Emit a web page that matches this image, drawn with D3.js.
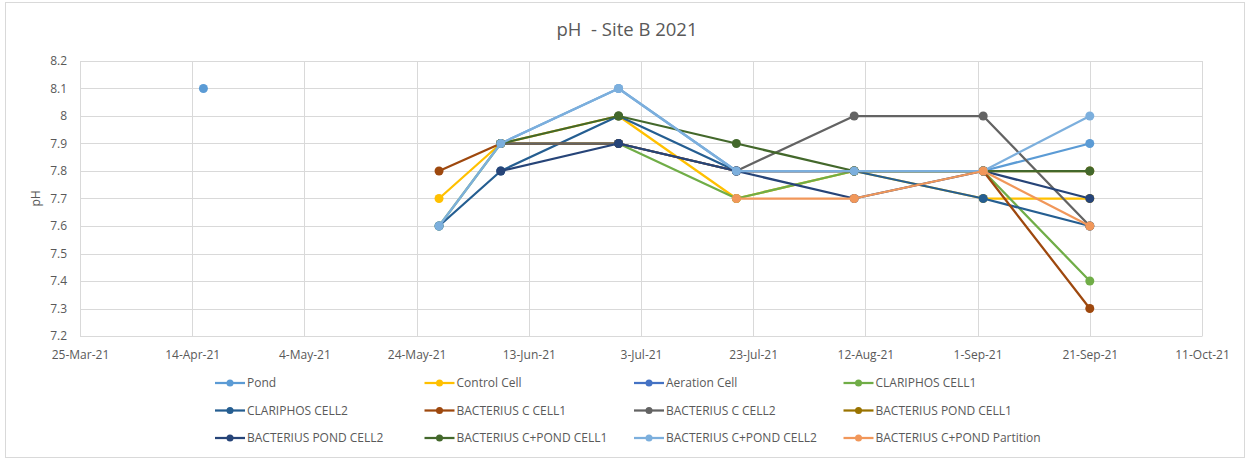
<!DOCTYPE html>
<html>
<head>
<meta charset="utf-8">
<script src="https://cdn.jsdelivr.net/npm/d3@7"></script>
<style>
  body { margin: 0; background: #fff; }
  text { font-family: "Open Sans", "Liberation Sans", sans-serif; fill: #595959; }
</style>
</head>
<body>
<div id="chart"></div>
<script>
// sample dates (Pond has one extra early reading)
const sampleDates = ["2021-04-16", "2021-05-28", "2021-06-08", "2021-06-29", "2021-07-20", "2021-08-10", "2021-09-02", "2021-09-21"];

const seriesNames = ["Pond", "Control Cell", "Aeration Cell", "CLARIPHOS CELL1", "CLARIPHOS CELL2", "BACTERIUS C CELL1",
  "BACTERIUS C CELL2", "BACTERIUS POND CELL1", "BACTERIUS POND CELL2", "BACTERIUS C+POND CELL1", "BACTERIUS C+POND CELL2", "BACTERIUS C+POND Partition"];

const seriesColors = ["#5B9BD5", "#FFC000", "#4472C4", "#70AD47", "#255E91", "#9E480E",
  "#636363", "#997300", "#264478", "#43682B", "#7CAFDD", "#F1975A"];

// pH readings, null = no sample
const pond          = [8.1, null, 7.9, 8.1, 7.8, 7.8, 7.8, 7.9];
const control       = [null, 7.7, 7.9, 8.0, 7.7, 7.8, 7.7, 7.7];
const aeration      = [null, null, null, null, null, null, null, null];
const clariphos1    = [null, 7.6, 7.9, 7.9, 7.7, 7.8, 7.8, 7.4];
const clariphos2    = [null, 7.6, 7.8, 8.0, 7.8, 7.8, 7.7, 7.6];
const bactC1        = [null, 7.8, 7.9, 7.9, 7.8, 7.8, 7.8, 7.3];
const bactC2        = [null, null, 7.9, 7.9, 7.8, 8.0, 8.0, 7.6];
const bactPond1     = [null, null, null, null, null, null, 7.8, 7.8];
const bactPond2     = [null, null, 7.8, 7.9, 7.8, 7.7, 7.8, 7.7];
const bactCPond1    = [null, null, 7.9, 8.0, 7.9, 7.8, 7.8, 7.8];
const bactCPond2    = [null, 7.6, 7.9, 8.1, 7.8, 7.8, 7.8, 8.0];
const bactPartition = [null, null, null, null, 7.7, 7.7, 7.8, 7.6];

const seriesValues = [pond, control, aeration, clariphos1, clariphos2, bactC1,
  bactC2, bactPond1, bactPond2, bactCPond1, bactCPond2, bactPartition];

const xTicks = ["2021-03-25", "2021-04-14", "2021-05-04", "2021-05-24", "2021-06-13", "2021-07-03",
  "2021-07-23", "2021-08-12", "2021-09-01", "2021-09-21", "2021-10-11"];
const yTicks = [7.2, 7.3, 7.4, 7.5, 7.6, 7.7, 7.8, 7.9, 8.0, 8.1, 8.2];

const parseDate = d3.timeParse("%Y-%m-%d");
const fmtDate = d3.timeFormat("%-d-%b-%y");

const W = 1250, H = 460;
const plotL = 80, plotR = 1202, plotT = 61, plotB = 336;

const svg = d3.select("#chart").append("svg")
  .attr("width", W)
  .attr("height", H);

svg.append("rect")
  .attr("x", 5.5).attr("y", 2.5)
  .attr("width", 1239).attr("height", 455)
  .attr("fill", "#fff")
  .attr("stroke", "#D9D9D9");

svg.append("text")
  .attr("x", 627).attr("y", 36)
  .attr("text-anchor", "middle")
  .style("font-size", "18.5px")
  .style("white-space", "pre")
  .text("pH  - Site B 2021");

const x = d3.scaleTime()
  .domain([parseDate(xTicks[0]), parseDate(xTicks[xTicks.length - 1])])
  .range([plotL, plotR]);

const y = d3.scaleLinear()
  .domain([7.2, 8.2])
  .range([plotB, plotT]);

// gridlines
svg.append("g")
  .selectAll("line")
  .data(yTicks)
  .enter()
  .append("line")
  .attr("x1", plotL).attr("x2", plotR)
  .attr("y1", d => Math.round(y(d)) + 0.5).attr("y2", d => Math.round(y(d)) + 0.5)
  .attr("stroke", "#D9D9D9")
  .attr("stroke-width", 1);

svg.append("g")
  .selectAll("line")
  .data(xTicks)
  .enter()
  .append("line")
  .attr("x1", d => Math.round(x(parseDate(d))) + 0.5).attr("x2", d => Math.round(x(parseDate(d))) + 0.5)
  .attr("y1", plotT).attr("y2", plotB)
  .attr("stroke", "#D9D9D9")
  .attr("stroke-width", 1);

// axes (labels only, Excel style)
const yAxis = svg.append("g")
  .attr("transform", "translate(" + plotL + ",0)")
  .call(d3.axisLeft(y).tickValues(yTicks).tickSize(0).tickPadding(13).tickFormat(d => String(+d.toFixed(1))));
yAxis.select(".domain").remove();
yAxis.selectAll("text").style("font-size", "12px").attr("fill", "#595959");

const xAxis = svg.append("g")
  .attr("transform", "translate(0," + plotB + ")")
  .call(d3.axisBottom(x).tickValues(xTicks.map(parseDate)).tickSize(0).tickPadding(14).tickFormat(fmtDate));
xAxis.select(".domain").attr("stroke", "#D9D9D9");
xAxis.selectAll("text").style("font-size", "12px").attr("fill", "#595959");

svg.append("text")
  .attr("transform", "translate(40," + ((plotT + plotB) / 2) + ") rotate(-90)")
  .attr("text-anchor", "middle")
  .style("font-size", "12px")
  .text("pH");

// series
const line = d3.line()
  .defined(d => d.v != null)
  .x(d => x(d.date))
  .y(d => y(d.v));

seriesNames.forEach((name, i) => {
  const pts = sampleDates.map((d, j) => ({ date: parseDate(d), v: seriesValues[i][j] }));
  const g = svg.append("g");
  g.append("path")
    .datum(pts)
    .attr("d", line)
    .attr("fill", "none")
    .attr("stroke", seriesColors[i])
    .attr("stroke-width", 2.25)
    .attr("stroke-linejoin", "round");
  g.selectAll("circle")
    .data(pts.filter(p => p.v != null))
    .enter()
    .append("circle")
    .attr("cx", d => x(d.date))
    .attr("cy", d => y(d.v))
    .attr("r", 4.5)
    .attr("fill", seriesColors[i]);
});

// legend
const legend = svg.append("g");
seriesNames.forEach((name, i) => {
  const lx = 215 + (i % 4) * 209.5;
  const ly = 383 + Math.floor(i / 4) * 27.5;
  const item = legend.append("g").attr("transform", "translate(" + lx + "," + ly + ")");
  item.append("line")
    .attr("x1", 0).attr("x2", 30)
    .attr("stroke", seriesColors[i])
    .attr("stroke-width", 2.25);
  item.append("circle")
    .attr("cx", 15).attr("r", 3.5)
    .attr("fill", seriesColors[i]);
  item.append("text")
    .attr("x", 32).attr("dy", "0.35em")
    .style("font-size", "12px")
    .text(name);
});
</script>
</body>
</html>
